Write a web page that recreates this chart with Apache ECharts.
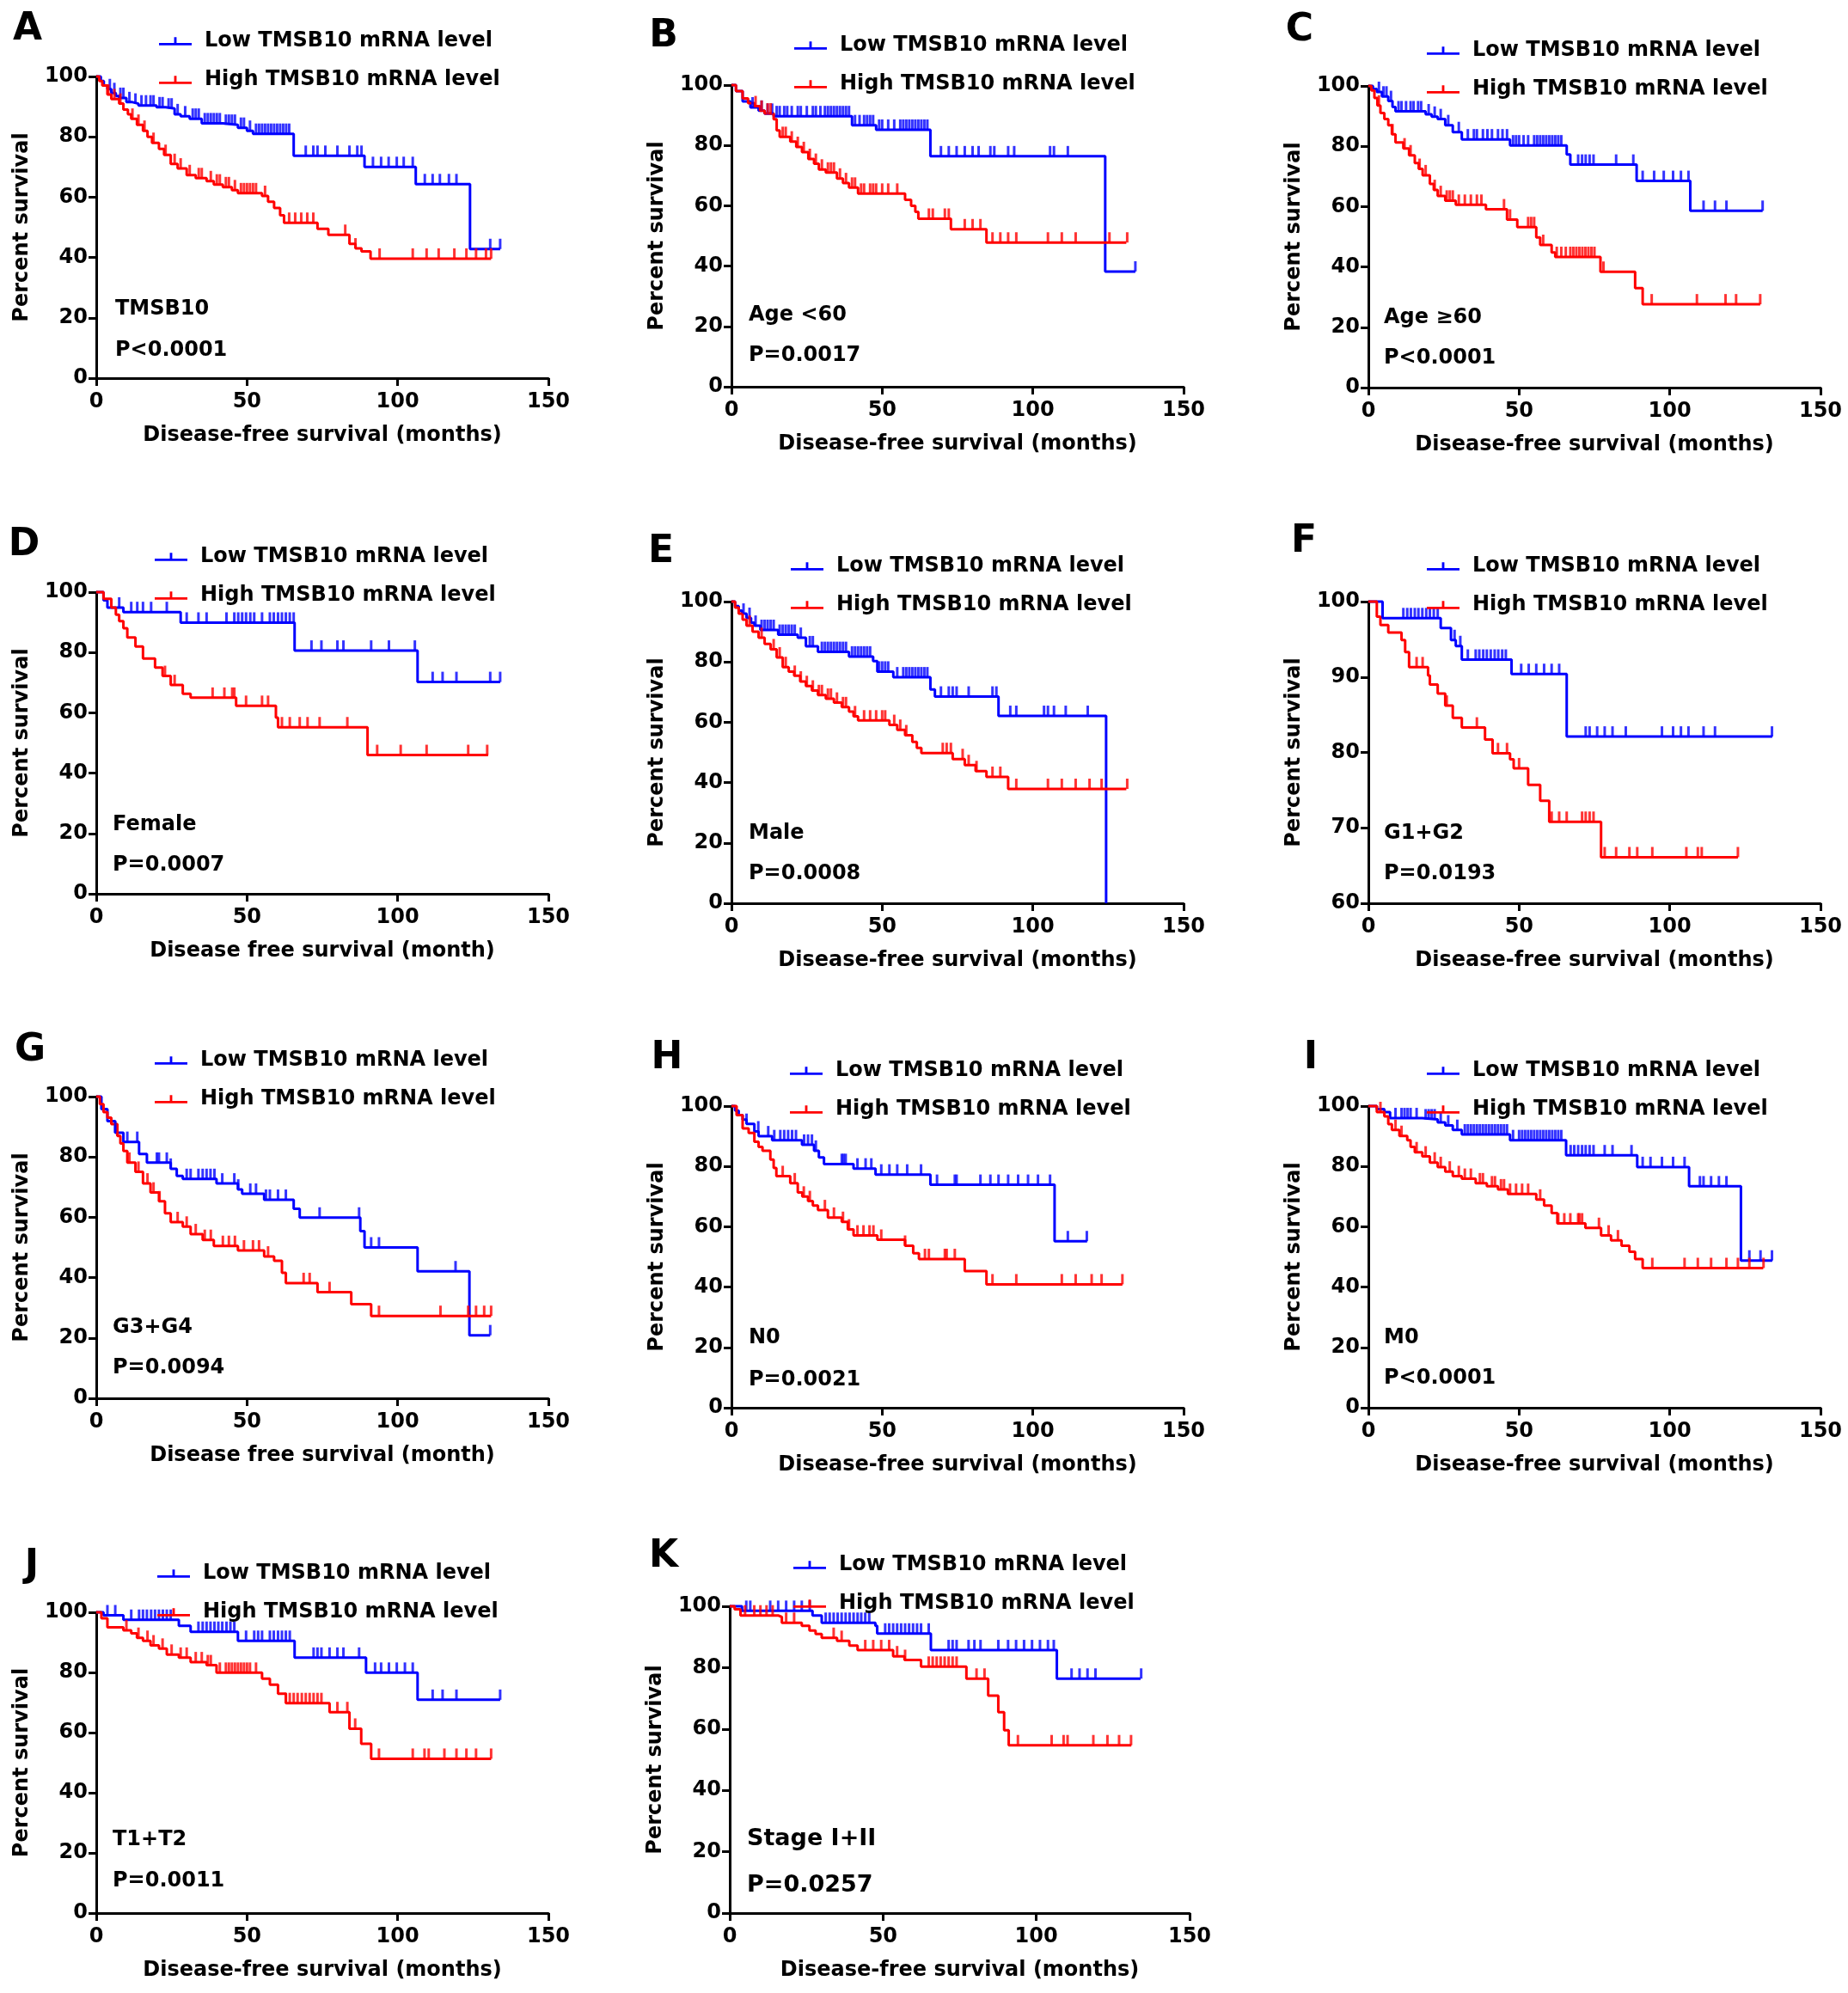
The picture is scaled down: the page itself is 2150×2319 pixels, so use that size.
<!DOCTYPE html>
<html><head><meta charset="utf-8">
<script src="https://cdn.jsdelivr.net/npm/echarts@6.0.0/dist/echarts.min.js"></script>
<style>html,body{margin:0;padding:0;background:#fff}#c{width:2150px;height:2319px}</style>
</head><body><div id="c"></div>
<script>
// ---------- DATA (step points [month, % survival]; censor times in months) ----------
const LOW = 'Low TMSB10 mRNA level';
const HIGH = 'High TMSB10 mRNA level';
const X_TITLE_1 = 'Disease-free survival (months)';
const X_TITLE_2 = 'Disease free survival (month)';
const Y_TITLE = 'Percent survival';
const X_TICKS = [0, 50, 100, 150];
const Y_TICKS = [0, 20, 40, 60, 80, 100];
const Y_TICKS_F = [60, 70, 80, 90, 100];

const A_low = [[0,100],[1.5,98.5],[2.5,97],[3.7,95.8],[5,94.5],[6.5,93.5],[7.6,92.9],[10,91.5],[12,91],[14,90.4],[20,89.8],[23,89.4],[26,87.5],[28,86.8],[31,86],[35,84.5],[42,84],[47,83],[50,82],[52,81],[65.5,73.7],[89,70],[106,64.3],[124,42.8],[134,42.8]];
const A_lowCens = [4.5,6,8,9,11,13,15,16.5,18,19,21,22,24,25,27,29.5,32,33,34,36,37,38,39,40,41,43,44,45,46,48,49,51,53,54,55,56,57,58,59,60,61,62,63,64,69.5,72,73.4,76,80,84,86.6,88,91.8,94.5,97,99.7,102,105,109,111.6,114,117,119.5,130.7,134];
const A_high = [[0,100],[1,98.5],[2,97],[3.7,94],[5,92.5],[7.6,91],[9,89],[10.5,87.5],[11.6,86],[13.5,84],[15.5,82],[17,80],[18.5,78],[20.8,76],[22.5,74],[24.7,71],[27,69.5],[30,67.3],[33,66.3],[36.6,65.3],[39,64.2],[42,63.3],[45,62.3],[47,61.3],[55,60.4],[57,58.5],[59,56.4],[61,54],[62.3,51.5],[73.4,49.5],[77,47.5],[84,44.5],[86,43],[88,42],[91,39.6],[131,39.6]];
const A_highCens = [4,6,8,12,14,16,19,23,26,28,31,34,35,38,40,41,43,44,46,48,49,50,51,52,53,56,64,66,68,70,72,82.6,86,94,105,109.6,113.6,118.8,122.8,126,129.3,131];

const B_low = [[0,100],[1.5,98],[3.7,94.6],[6.3,92.6],[9,91.5],[11,90.5],[14,89.7],[40,86.7],[48,85.2],[66,76.4],[124,38.2],[134,38.2]];
const B_lowCens = [7,10,12,13.5,15,16,17.5,18.5,20,22,23,25,27,28,29.5,31,32,33,34,35,36,37,38,39,41,42.5,44,45,46,47,49,50,52,54,56,57,58,59,60,61,62,63,64,65,69.5,72.1,74.7,77.4,80,82,85.9,87.2,91.8,93.8,105.7,107,111.6,134];
const B_high = [[0,100],[1.5,98],[3.7,95.6],[5.5,94],[7.6,93],[9.5,91.5],[11,90.6],[14,88.7],[15,85],[16,82.8],[19.5,81.3],[21.5,79.5],[23.4,77.8],[25.5,75.5],[27.4,73.9],[29,72],[31.3,71],[35,69],[37,67.5],[39,66],[42,64],[57.6,62],[59.6,60],[61,58],[62,55.7],[72.8,52.2],[84.6,47.8],[131,47.8]];
const B_highCens = [8,10,12,13,17,18,20,22,24,26,28,30,32,33,34,36,38,40,41,43,44,46,47,48,50,52,55,65.5,66.8,70.8,72.1,77.4,80,82.6,86.6,89.2,91.8,94.5,105,109.6,114.2,125.4,131.3];

const C_low = [[0,100],[1.5,99],[2.8,98],[4.5,96.5],[6.6,95],[8,93],[9,91.6],[19,90.6],[21,89.8],[23,89],[25.5,87],[28,84.7],[31,82.3],[47,80.3],[65.8,77.3],[67,73.9],[89,68.5],[106.8,58.6],[130.8,58.6]];
const C_lowCens = [3.5,5,6,7.5,10,11,12.5,14,15,16.5,17.5,20,22,24,26.5,30,33,35,36,38,39.5,41,43,44.5,46,48,49,50,51.5,53,55,56,57,58,59,60,61,62,63,64,69.6,70.9,72.1,73.4,74.7,82.2,87.9,91,94.8,98,101.1,103.7,106.2,111.2,115,118.8,130.8];
const C_high = [[0,100],[1,98.5],[2,96],[3,93.5],[4,91],[5.3,89],[6.6,87],[7.8,84],[9,81.3],[11.6,79.3],[13.5,77],[15.4,74.4],[16.7,72.5],[18,70.4],[20.4,67.5],[21.7,65.5],[23,63.5],[25.5,62],[29,60.6],[39,59.1],[46,55.7],[49.4,53.2],[55.7,49.8],[57,47.3],[60.8,44.8],[62,43.3],[77,38.4],[88.5,33],[91,27.6],[130,27.6]];
const C_highCens = [3.5,8,12,14,17,19,22,24,26,27,28,30,32,34,36,37.5,45,47,53,54,55,58,62.5,64,65.5,67,68,69,70,71,72,73,74,75,78,94,109,118.5,122,130];

const D_low = [[0,100],[2.4,97.3],[3.7,94.9],[9,93.4],[28,89.9],[65.8,80.6],[106.6,70.2],[134,70.2]];
const D_lowCens = [7.6,11.6,13.6,15.5,18.2,23.4,30,33.9,36.6,43.2,45.8,47.1,48.4,49.7,51.1,52.4,55,57.6,58.9,60.3,61.6,62.9,64.2,65.5,71.4,74.7,80,82,91.2,97.1,105.7,111.6,114.9,119.5,130.7,134];
const D_high = [[0,100],[2.4,97.8],[5,94.9],[6.5,92.5],[7.6,90.4],[9,88],[10.3,85],[13,82],[15.5,78],[19.5,75],[22,72.2],[24.7,69.2],[28.7,66.3],[31.3,65],[46.4,62.3],[59.6,58.4],[60.3,55.2],[90,46],[130,46]];
const D_highCens = [22.8,26,38.6,42.5,45.1,45.8,49.7,55,57,61.6,64.2,67.5,70.1,74.1,83.3,93.2,101,109.6,123.4,129.7];

const E_low = [[0,100],[1.2,98.5],[2.4,97],[3.5,96],[5,94.6],[6.5,93],[7.6,92],[9.6,90.6],[15.5,89],[22,88],[24.7,85.2],[28.7,83.3],[39,81.8],[47,80.3],[48.4,76.8],[53.7,74.9],[66,70.9],[67.5,68.5],[88.6,62.1],[124.3,0]];
const E_lowCens = [4,6,8,10,11,12,13,14,16,17,18,19,20,21,23,26,27,30,31,32,33,34,35,36,37,38,40,41,42,43,44,45,46,49,50,51,52,55,57,58,59,60,61,62,63,64,65,69.5,72.1,73.4,74.7,78.7,86.6,87.9,92.5,94.5,103.7,105,107,110.9,118.2];
const E_high = [[0,100],[1.2,98],[2.4,96],[3.7,94],[5,92],[7,90],[9,88],[11,86],[13,84.2],[15,81.5],[17,78.3],[19,76.8],[20.8,75.4],[22.8,73.5],[24.7,72],[26.7,70.5],[28.7,69],[31.3,67.8],[34,66.5],[36.6,65],[39,63.5],[40.5,62],[42,60.6],[52.4,59.1],[55,57.5],[57.6,55.7],[60,53.5],[61.5,51.5],[63,49.8],[73.4,47.8],[77.4,45.8],[81,43.8],[84.6,41.9],[91.8,37.9],[131,37.9]];
const E_highCens = [6,10,14,16,18,21,23,25,27,29,30,32,33,35,37,38,41,44,46,48,50,51,54,56,58,70.1,71.4,72.8,76.7,78.7,81.3,86.6,89.2,94.5,105,109.6,114.2,118.8,122.8,131.3];

const F_low = [[0,100],[4.7,97.8],[24,96.5],[27.4,94.9],[29,94.1],[31,92.3],[47.5,90.4],[65.8,82.1],[134,82.1]];
const F_lowCens = [4.7,11.6,12.9,14.1,15.4,16.6,17.9,19.2,20.4,21.7,23,28.6,30.5,33,35.6,36.8,38.1,39.3,40.6,41.9,43.1,44.4,45.6,50.7,53.2,55.7,58.3,60.8,63.3,72.1,73.4,75.9,78.4,81,85.4,97.4,101.1,103.7,106.2,111.2,115,133.9];
const F_high = [[0,100],[2.8,98],[4,96.9],[6.6,95.9],[11,94.9],[12.2,93.3],[13.5,91.3],[19.8,90.2],[20.4,89],[23,87.8],[25.5,86.2],[28,84.6],[31,83.3],[38.7,81.7],[41.2,79.9],[47,79.1],[48.2,77.9],[53,75.7],[57,73.6],[60,70.8],[77.2,66.1],[122.6,66.1]];
const F_highCens = [16,18,26,36,43,46,50,60.8,63.3,65.8,70.9,72.1,73.4,74.7,78.4,82.2,86.6,89.2,94.2,105.5,109.3,110.6,122.6];

const G_low = [[0,100],[1.7,95.9],[3.7,91.9],[6.3,88],[9,85],[14.2,81],[16.8,78.1],[24.7,76.1],[26.7,73.7],[28.7,72.7],[39.9,71.2],[47,69.2],[48.4,67.8],[55.7,65.8],[65.5,62.8],[67.5,59.9],[87.6,55.4],[89,50],[106.6,42.1],[123.8,20.9],[130.7,20.9]];
const G_lowCens = [6.3,10.3,13.6,20.1,20.8,23.4,24.7,30,31.3,33.9,35.3,36.6,37.9,39.2,41.8,45.8,47.1,51.1,53,56.3,57.6,60.3,62.9,74.1,87.2,91.2,93.8,119.2,130.7];
const G_high = [[0,100],[1.2,97.5],[2.4,94.9],[3.7,93],[5,90.9],[7,87],[8,84.5],[9,82],[10.3,78.1],[13,75.1],[15.5,71.2],[18,68.2],[20.8,65.3],[22.8,61.3],[24.7,58.4],[28.7,56.9],[31.3,54.4],[35.3,52.5],[39,50.5],[47,49],[55.7,47],[59,45.6],[61.6,41.6],[62.9,38.2],[73.4,35.2],[84.6,31.2],[91.2,27.3],[131,27.3]];
const G_highCens = [11,14,17,19,21,27,30,33,36,38,42,44,46,49,52,54,57,68.8,70.8,77.4,93.8,114.2,123.4,126,128.7,131];

const H_low = [[0,100],[1.2,98.5],[2.4,97],[3.7,95.5],[5,94.1],[7.6,91.6],[9,90],[13.5,88.7],[23.4,87.2],[27.4,85.2],[29,83],[30.7,80.8],[40.5,79.3],[47.8,77.3],[66,73.9],[107.2,55.2],[118,55.2]];
const H_lowCens = [5,8.9,12.2,14.2,16.2,17.5,18.8,20.1,21.4,24.1,25.4,26.7,28,36.6,37.2,37.9,41.8,44.5,46.4,49.7,52.4,55,58.3,62.9,68.2,74.1,74.7,82.6,85.9,88.6,91.8,95.1,98.4,101.7,105.7,111.6,117.9];
const H_high = [[0,100],[1.7,97],[3.7,92.6],[5.7,91.1],[7.6,88.2],[9,86.5],[10.3,85.2],[12.9,82.3],[14,79.5],[14.9,76.8],[19.5,74.4],[22,71.4],[23.5,70],[25.4,68.5],[27,67],[28.7,65.5],[32,63],[36.6,61.6],[38.6,59.1],[40.5,57.1],[48.4,55.7],[57.6,53.7],[60.3,51.2],[62.2,49.3],[77.4,45.3],[84.6,40.9],[129.7,40.9]];
const H_highCens = [17,21,24,26,31,34,37,39,41.8,43.8,45.8,47.1,49.7,57.6,64.2,65.5,70.8,71.4,74.1,86.6,94.5,109.6,114.2,119.5,122.8,129.7];

const I_low = [[0,100],[2.8,99],[5.3,98],[7.2,96],[17.9,95.6],[23,94.6],[25.5,93.6],[28,92.1],[31,90.6],[47,88.7],[65.6,83.7],[89.2,79.8],[106.4,73.4],[123.6,48.8],[134,48.8]];
const I_lowCens = [9,11,12,13,14,16,19,20,21,22,24,26.5,29.5,32,33,34,35,36,37,38,39,40,41,42,43,44,45,46,48,50,51,52,53,54,55,56,57,58,59,60,61,62,63,64,67.1,68.3,69.6,70.9,72.1,73.4,74.7,78.4,81,87.3,91,93.6,97.4,101.1,104.9,110,111.2,113.7,116.3,118.8,126.4,130.1,133.9];
const I_high = [[0,100],[2.8,98],[5.3,96.6],[6.6,94],[7.8,92.1],[10.3,90.1],[12.9,88.7],[14,86.5],[15.4,84.7],[17.9,83.3],[20.4,81.3],[23,79.8],[25.5,78.3],[28,76.8],[31,75.9],[35.6,74.4],[39.3,73.4],[43,72.4],[46.3,70.9],[55.7,69],[58.3,67],[60.8,64.5],[62.7,61.1],[72,59.6],[77.2,57.1],[80.5,55.5],[84,53.7],[86.6,51.7],[88.5,49.3],[91,46.3],[131,46.3]];
const I_highCens = [4,9,11,16,19,22,24,27,30,32,34,37,38,41,42,44,45,47,49,51,53,57,63,65,67,70,69.6,70.9,76.5,79.7,82.8,94.2,104.9,109.3,113.7,118.8,122.6,126.4,131.1];

const J_low = [[0,100],[2.4,99],[9,97.5],[27.4,95.5],[31.3,93.5],[47,90.5],[65.8,84.9],[89.5,79.9],[106.6,70.9],[134,70.9]];
const J_lowCens = [3.7,6.3,11.6,14.2,15.5,16.8,18.2,19.5,20.8,22.1,23.4,24.7,33.9,35.3,36.6,37.9,39.2,40.5,41.8,43.2,44.5,45.8,49.7,52.4,53.7,55,57.6,58.9,60.3,61.6,62.9,64.2,72.1,73.4,74.7,77.4,80,82,87.2,92.5,94.5,97.1,99.7,102.4,105,111.6,114.9,119.5,134];
const J_high = [[0,100],[1.7,98],[3.7,95],[9,94],[11.6,93],[13.5,91.5],[15.5,90.5],[18,89],[20.8,87.9],[23.4,85.9],[27.4,84.9],[31.3,83.4],[36.6,82.4],[39.9,79.9],[55,77.9],[57.6,75.9],[60.3,72.9],[62.9,69.8],[77.4,66.8],[84,61.3],[87.9,56.3],[91.2,51.3],[131,51.3]];
const J_highCens = [10,14,17,19,22,25,28,30,33,35,37,38,41,43,44,45,46,47,48,49,50,51,53,62.9,64.2,65.5,66.8,68.2,69.5,70.8,72.1,73.4,74.7,80,83.3,85.9,93.8,105,108.9,110.3,115.5,119.5,122.8,126,131];

const K_low = [[0,100],[4,98.5],[27,97],[30,94.6],[47.5,93.6],[48.1,91.1],[65.6,85.7],[106.7,76.4],[134,76.4]];
const K_lowCens = [5.4,6.7,13.2,15.8,18.4,21,23.5,26.1,31.3,32.6,33.9,35.2,36.5,37.8,39.1,40.4,41.7,42.9,44.2,45.5,50.7,52,53.3,54.6,55.9,57.2,58.5,59.8,61.1,62.4,64.9,71.4,72.7,74,77.9,79.8,81.8,87.6,90.8,93.4,96,98.6,101.2,103.8,105.7,111.5,114.1,116.7,119.3,134.2];
const K_high = [[0,100],[1.6,99],[3.5,97],[15.8,96.5],[17,94.6],[23.5,93.6],[26,92.1],[28,91],[30,89.7],[35,88.7],[39,87.2],[41.7,85.7],[53.3,83.7],[57,82.5],[62.4,80.3],[77.2,76.4],[84.3,70.9],[87.6,65.5],[89.5,59.6],[91,54.7],[131,54.7]];
const K_highCens = [5,8,10,12,14,18.4,21,33.9,36.5,44.2,46.8,49.4,52,54.6,57.2,64.9,66.2,67.5,68.8,70.1,71.4,72.7,74,80.5,83.1,94,105,108.9,110.2,118.6,123.2,127,130.9];

// ---------- LAYOUT / STYLE ----------
const FONT = 'DejaVu Sans';
const BLUE = '#0000ff';
const RED = '#ff0000';
const ICON = 'path://M0,10 L40,10 L40,13 L0,13 Z M18.5,3 L21.5,3 L21.5,12 L18.5,12 Z';

const panels = [
  {L:'A', low:A_low, lowC:A_lowCens, high:A_high, highC:A_highCens, note:'TMSB10', p:'P<0.0001', xt:X_TITLE_1, yt:Y_TICKS, grid:[112,89,526,351], leg:[180,43], letter:[32,35], np:[134,360,408], nf:24},
  {L:'B', low:B_low, lowC:B_lowCens, high:B_high, highC:B_highCens, note:'Age <60', p:'P=0.0017', xt:X_TITLE_1, yt:Y_TICKS, grid:[851,99,526,351], leg:[919,48], letter:[772,43], np:[871,367,414], nf:24},
  {L:'C', low:C_low, lowC:C_lowCens, high:C_high, highC:C_highCens, note:'Age \u226560', p:'P<0.0001', xt:X_TITLE_1, yt:Y_TICKS, grid:[1592,100,526,351], leg:[1655,54], letter:[1512,36], np:[1610,370,417], nf:24},
  {L:'D', low:D_low, lowC:D_lowCens, high:D_high, highC:D_highCens, note:'Female', p:'P=0.0007', xt:X_TITLE_2, yt:Y_TICKS, grid:[112,689,526,351], leg:[175,643], letter:[28,635], np:[131,960,1007], nf:24},
  {L:'E', low:E_low, lowC:E_lowCens, high:E_high, highC:E_highCens, note:'Male', p:'P=0.0008', xt:X_TITLE_1, yt:Y_TICKS, grid:[851,700,526,351], leg:[915,654], letter:[769,643], np:[871,970,1017], nf:24},
  {L:'F', low:F_low, lowC:F_lowCens, high:F_high, highC:F_highCens, note:'G1+G2', p:'P=0.0193', xt:X_TITLE_1, yt:Y_TICKS_F, grid:[1592,700,526,351], leg:[1655,654], letter:[1517,631], np:[1610,970,1017], nf:24},
  {L:'G', low:G_low, lowC:G_lowCens, high:G_high, highC:G_highCens, note:'G3+G4', p:'P=0.0094', xt:X_TITLE_2, yt:Y_TICKS, grid:[112,1276,526,351], leg:[175,1229], letter:[35,1223], np:[131,1545,1592], nf:24},
  {L:'H', low:H_low, lowC:H_lowCens, high:H_high, highC:H_highCens, note:'N0', p:'P=0.0021', xt:X_TITLE_1, yt:Y_TICKS, grid:[851,1287,526,351], leg:[914,1241], letter:[776,1232], np:[871,1557,1606], nf:24},
  {L:'I', low:I_low, lowC:I_lowCens, high:I_high, highC:I_highCens, note:'M0', p:'P<0.0001', xt:X_TITLE_1, yt:Y_TICKS, grid:[1592,1287,526,351], leg:[1655,1241], letter:[1525,1232], np:[1610,1557,1604], nf:24},
  {L:'J', low:J_low, lowC:J_lowCens, high:J_high, highC:J_highCens, note:'T1+T2', p:'P=0.0011', xt:X_TITLE_1, yt:Y_TICKS, grid:[112,1876,526,350], leg:[178,1826], letter:[37,1823], np:[131,2141,2189], nf:24},
  {L:'K', low:K_low, lowC:K_lowCens, high:K_high, highC:K_highCens, note:'Stage I+II', p:'P=0.0257', xt:X_TITLE_1, yt:Y_TICKS, grid:[849,1869,535,357], leg:[918,1816], letter:[772,1812], np:[869,2140,2194], nf:27}
];

function stepAt(steps, t) {
  let v = steps[0][1];
  for (const p of steps) { if (p[0] <= t) v = p[1]; else break; }
  return v;
}

const txt = {fontFamily: FONT, fontWeight: 'bold', color: '#000', fontSize: 24};
const grids = [], xAxes = [], yAxes = [], series = [], legends = [], graphics = [];

panels.forEach((P, i) => {
  grids.push({left: P.grid[0], top: P.grid[1], width: P.grid[2], height: P.grid[3], containLabel: false});
  xAxes.push({
    gridIndex: i, type: 'value', min: X_TICKS[0], max: X_TICKS[X_TICKS.length - 1],
    interval: X_TICKS[1] - X_TICKS[0],
    name: P.xt, nameLocation: 'middle', nameGap: 55, nameTextStyle: Object.assign({}, txt),
    axisLine: {show: true, onZero: false, lineStyle: {color: '#000', width: 3}},
    axisTick: {show: true, length: 9, lineStyle: {color: '#000', width: 3}},
    axisLabel: Object.assign({margin: 16}, txt),
    splitLine: {show: false}
  });
  yAxes.push({
    gridIndex: i, type: 'value', min: P.yt[0], max: P.yt[P.yt.length - 1],
    interval: P.yt[1] - P.yt[0],
    name: Y_TITLE, nameLocation: 'middle', nameGap: 74, nameRotate: 90, nameTextStyle: Object.assign({}, txt),
    axisLine: {show: true, onZero: false, lineStyle: {color: '#000', width: 3}},
    axisTick: {show: true, length: 9, lineStyle: {color: '#000', width: 3}},
    axisLabel: Object.assign({margin: 10}, txt),
    splitLine: {show: false}
  });
  const defs = [[LOW, P.low, P.lowC, BLUE], [HIGH, P.high, P.highC, RED]];
  defs.forEach(([name, steps, cens, col]) => {
    series.push({
      type: 'line', name: name, xAxisIndex: i, yAxisIndex: i, data: steps, step: 'end',
      showSymbol: false, symbol: 'none', clip: false, animation: false,
      lineStyle: {color: col, width: 3}, itemStyle: {color: col}, z: 3
    });
    series.push({
      type: 'scatter', name: name, xAxisIndex: i, yAxisIndex: i,
      data: cens.map(t => [t, stepAt(steps, t)]),
      symbol: 'rect', symbolSize: [3, 12], symbolOffset: [0, -6], clip: false, animation: false,
      itemStyle: {color: col}, z: 3
    });
  });
  legends.push({
    left: P.leg[0], top: P.leg[1] - 15, orient: 'vertical', itemGap: 15,
    itemWidth: 38, itemHeight: 10, icon: ICON, selectedMode: false,
    data: [{name: LOW, itemStyle: {color: BLUE}}, {name: HIGH, itemStyle: {color: RED}}],
    textStyle: Object.assign({lineHeight: 30, padding: [0, 0, 0, 10]}, txt)
  });
  graphics.push({type: 'text', x: P.letter[0], y: P.letter[1],
    style: {text: P.L, fontFamily: FONT, fontWeight: 'bold', fontSize: 44, fill: '#000', textAlign: 'center', textVerticalAlign: 'middle'}});
  graphics.push({type: 'text', x: P.np[0], y: P.np[1],
    style: {text: P.note, fontFamily: FONT, fontWeight: 'bold', fontSize: P.nf, fill: '#000', textAlign: 'left', textVerticalAlign: 'middle'}});
  graphics.push({type: 'text', x: P.np[0], y: P.np[2],
    style: {text: P.p, fontFamily: FONT, fontWeight: 'bold', fontSize: P.nf, fill: '#000', textAlign: 'left', textVerticalAlign: 'middle'}});
});

const chart = echarts.init(document.getElementById('c'), null, {renderer: 'canvas'});
chart.setOption({
  backgroundColor: '#fff',
  animation: false,
  grid: grids, xAxis: xAxes, yAxis: yAxes, series: series, legend: legends,
  graphic: {elements: graphics}
});
</script>
</body></html>
